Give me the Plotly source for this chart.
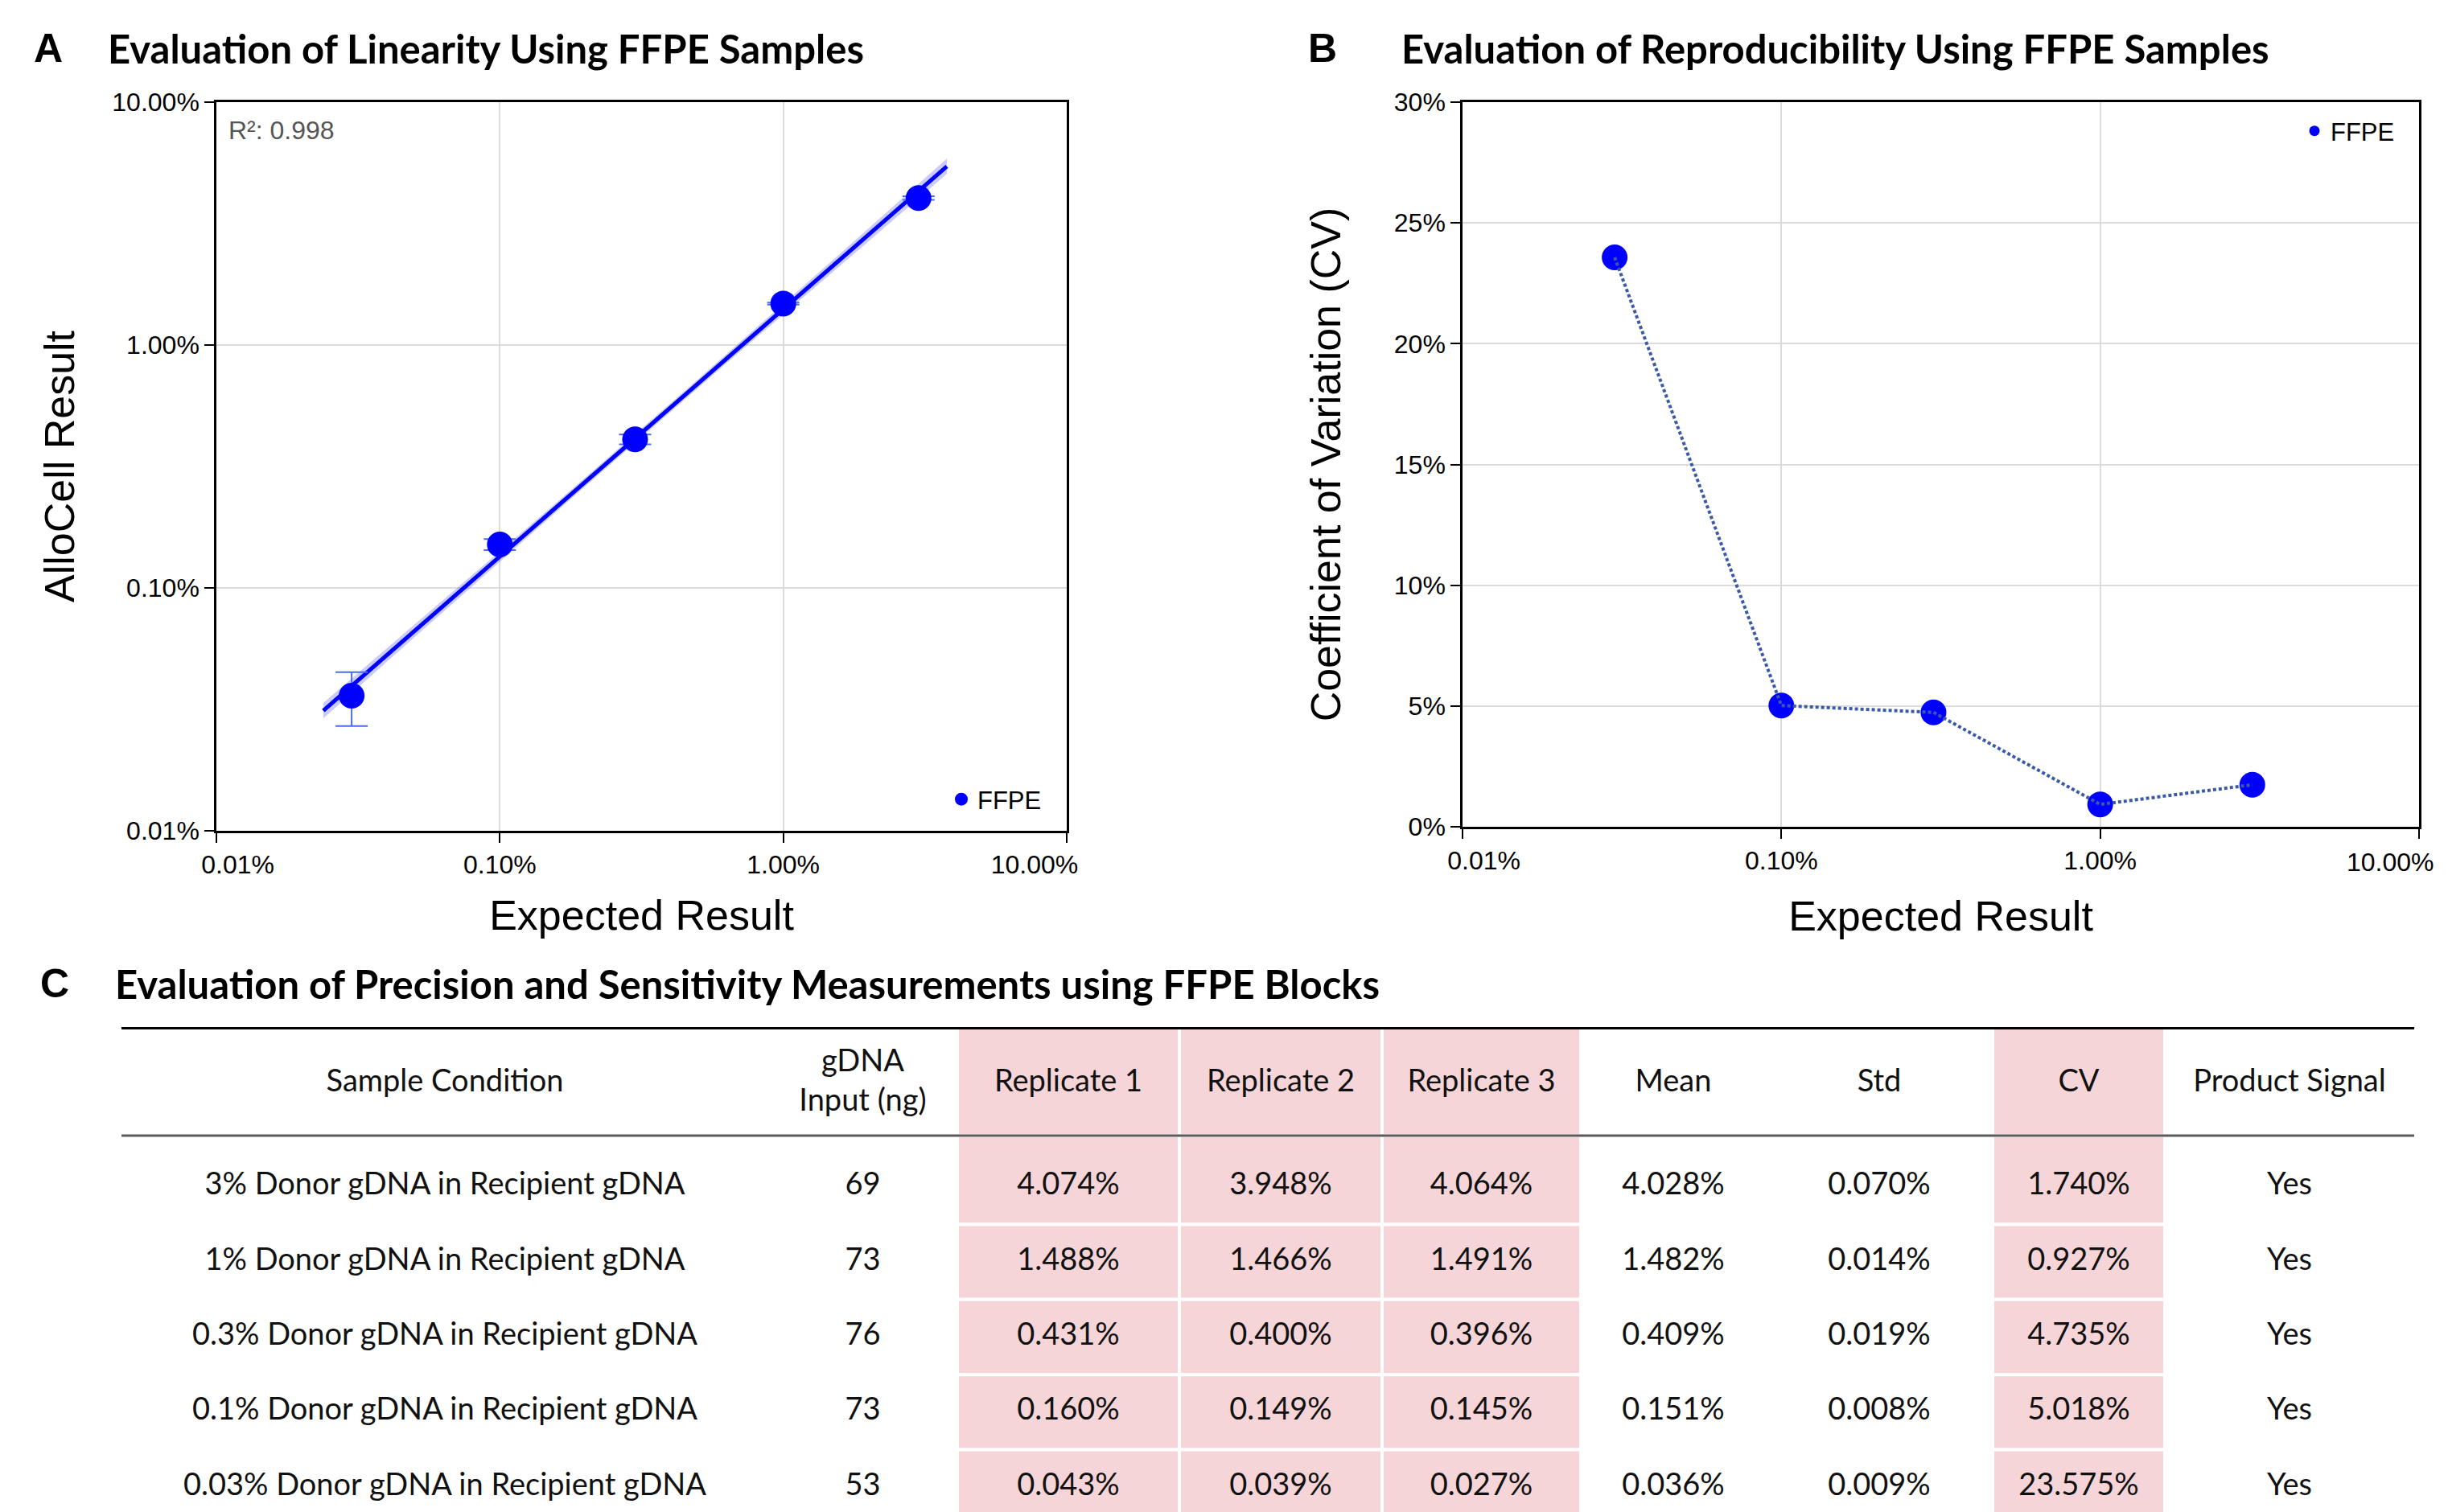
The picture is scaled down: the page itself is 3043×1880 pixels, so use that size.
import numpy as np
import plotly.graph_objects as go

W, H = 3043, 1880

# ---------------- data ----------------
conditions = ["3% Donor gDNA in Recipient gDNA", "1% Donor gDNA in Recipient gDNA",
              "0.3% Donor gDNA in Recipient gDNA", "0.1% Donor gDNA in Recipient gDNA",
              "0.03% Donor gDNA in Recipient gDNA"]
expected_pct = [3, 1, 0.3, 0.1, 0.03]
gdna_input = [69, 73, 76, 73, 53]
rep1 = [4.074, 1.488, 0.431, 0.160, 0.043]
rep2 = [3.948, 1.466, 0.400, 0.149, 0.039]
rep3 = [4.064, 1.491, 0.396, 0.145, 0.027]
mean_pct = [4.028, 1.482, 0.409, 0.151, 0.036]
std_pct = [0.070, 0.014, 0.019, 0.008, 0.009]
cv_pct = [1.740, 0.927, 4.735, 5.018, 23.575]
product_signal = ["Yes", "Yes", "Yes", "Yes", "Yes"]
r_squared = 0.998

headers = ["Sample Condition", "gDNA<br>Input (ng)", "Replicate 1", "Replicate 2", "Replicate 3",
           "Mean", "Std", "CV", "Product Signal"]
log_tick_vals = [0.01, 0.1, 1, 10]
log_tick_text = ["0.01%", "0.10%", "1.00%", "10.00%"]
cv_tick_vals = [0, 5, 10, 15, 20, 25, 30]

# ---------------- style ----------------
AX_FONT = "Liberation Sans, Arial, Helvetica, sans-serif"
CAL_FONT = "Lato, Carlito, Calibri, sans-serif"
BLUE = "#0000ff"
GRID = "#dcdcdc"
PINK = "#f5d5d8"
BAND_SCALE = 0.9  # visual width of the fit uncertainty band (in standard errors)

fig = go.Figure()

# ---------------- panel A : linearity ----------------
order = np.argsort(expected_pct)
xs = np.array(expected_pct, dtype=float)[order]
ys = np.array(mean_pct, dtype=float)[order]
es = np.array(std_pct, dtype=float)[order]
cvs = np.array(cv_pct, dtype=float)[order]

lx, ly = np.log10(xs), np.log10(ys)
slope, intercept = np.polyfit(lx, ly, 1)
n = len(lx)
resid = ly - (slope * lx + intercept)
se = np.sqrt(np.sum(resid ** 2) / (n - 2))
sxx = np.sum((lx - lx.mean()) ** 2)
fit_lx = np.linspace(lx.min() - 0.1, lx.max() + 0.1, 60)
fit_ly = slope * fit_lx + intercept
half = BAND_SCALE * se * np.sqrt(1 / n + (fit_lx - lx.mean()) ** 2 / sxx)
fx = 10 ** fit_lx
band_x = np.concatenate([fx, fx[::-1]])
band_y = np.concatenate([10 ** (fit_ly + half), 10 ** (fit_ly - half)[::-1]])

fig.add_trace(go.Scatter(x=band_x, y=band_y, fill="toself", fillcolor="rgba(70,70,255,0.28)",
                         line=dict(width=0), mode="lines", hoverinfo="skip", showlegend=False,
                         xaxis="x", yaxis="y"))
fig.add_trace(go.Scatter(x=fx, y=10 ** fit_ly, mode="lines", line=dict(color=BLUE, width=5),
                         hoverinfo="skip", showlegend=False, xaxis="x", yaxis="y"))
fig.add_trace(go.Scatter(x=xs, y=ys, mode="markers", name="FFPE",
                         marker=dict(color=BLUE, size=32),
                         error_y=dict(type="data", array=es, color="#4a6ee6", thickness=2, width=20),
                         xaxis="x", yaxis="y", legend="legend"))

# ---------------- panel B : reproducibility ----------------
fig.add_trace(go.Scatter(x=xs, y=cvs, mode="markers", marker=dict(color=BLUE, size=32),
                         showlegend=False, xaxis="x2", yaxis="y2"))
fig.add_trace(go.Scatter(x=xs, y=cvs, mode="lines",
                         line=dict(color="#3a5aa8", width=4, dash="4px,3px"),
                         showlegend=False, hoverinfo="skip", xaxis="x2", yaxis="y2"))
fig.add_trace(go.Scatter(x=[None], y=[None], mode="markers", name="FFPE",
                         marker=dict(color=BLUE, size=13), xaxis="x2", yaxis="y2",
                         legend="legend2"))

# ---------------- panel C : table ----------------
col_edges = [151, 955, 1190, 1466, 1718, 1965, 2195, 2477, 2691, 3001]
pink_cols = [2, 3, 4, 7]
col_centers = [(col_edges[i] + col_edges[i + 1]) / 2 for i in range(len(col_edges) - 1)]
Y_TOP, Y_HEAD, Y_HEADLINE, Y_BOT = -2.13, -1.38, -0.685, 4.33
n_rows = len(conditions)

shapes = []
for c in pink_cols:
    x0, x1 = col_edges[c], col_edges[c + 1]
    bounds = [(Y_TOP, Y_HEADLINE)]
    for r in range(n_rows):
        top = Y_HEADLINE if r == 0 else r - 0.5
        bot = Y_BOT + 0.2 if r == n_rows - 1 else r + 0.5
        bounds.append((top, bot))
    for (t, b) in bounds:
        shapes.append(dict(type="rect", xref="x3", yref="y3", x0=x0, x1=x1, y0=t, y1=b,
                           fillcolor=PINK, line=dict(color="white", width=4), layer="below"))
shapes.append(dict(type="line", xref="x3", yref="y3", x0=col_edges[0], x1=col_edges[-1],
                   y0=Y_TOP, y1=Y_TOP, line=dict(color="black", width=6)))
shapes.append(dict(type="line", xref="x3", yref="y3", x0=col_edges[0], x1=col_edges[-1],
                   y0=Y_HEADLINE, y1=Y_HEADLINE, line=dict(color="#5a5a5a", width=3)))

def pct(v):
    return f"{v:.3f}%"

cells = [conditions, [str(v) for v in gdna_input], [pct(v) for v in rep1], [pct(v) for v in rep2],
         [pct(v) for v in rep3], [pct(v) for v in mean_pct], [pct(v) for v in std_pct],
         [pct(v) for v in cv_pct], product_signal]
tx, ty, tt = [], [], []
for ci, col in enumerate(cells):
    for ri, val in enumerate(col):
        tx.append(col_centers[ci]); ty.append(ri); tt.append(val)
for ci, h in enumerate(headers):
    tx.append(col_centers[ci]); ty.append(Y_HEAD); tt.append(h)
fig.add_trace(go.Scatter(x=tx, y=ty, text=tt, mode="text", textposition="middle center",
                         textfont=dict(family=CAL_FONT, size=38, color="#111111"),
                         hoverinfo="skip", showlegend=False, cliponaxis=False,
                         xaxis="x3", yaxis="y3"))

# ---------------- axes ----------------
NB = "\u00a0"
x_tick_text_A = [NB * 6 + log_tick_text[0]] + log_tick_text[1:3] + [log_tick_text[3] + NB * 9]
# panel B: the last label is placed as an annotation (shifted inward, like the original)
x_tick_text_B = [NB * 6 + log_tick_text[0]] + log_tick_text[1:3] + [""]

tick_font = dict(family=AX_FONT, size=32, color="black")
common = dict(ticks="outside", ticklen=12, tickwidth=2, tickcolor="black",
              showline=True, linecolor="black", linewidth=2.5, mirror=True,
              showgrid=True, gridcolor=GRID, gridwidth=2, zeroline=False, automargin=False,
              ticklabeloverflow="allow", tickfont=tick_font)
title_font = dict(family=AX_FONT, size=52, color="black")

A_dom_x = [269 / W, 1326 / W]
A_dom_y = [1 - 1033 / H, 1 - 127 / H]
B_dom_x = [1818 / W, 3007 / W]
B_dom_y = [1 - 1028 / H, 1 - 127 / H]

fig.update_layout(
    xaxis=dict(type="log", range=[-2, 1], domain=A_dom_x, anchor="y",
               tickvals=log_tick_vals, ticktext=x_tick_text_A,
               title=dict(text="Expected Result", font=title_font, standoff=28), **common),
    yaxis=dict(type="log", range=[-2, 1], domain=A_dom_y, anchor="x",
               tickvals=log_tick_vals, ticktext=log_tick_text,
               title=dict(text="AlloCell Result", font=title_font, standoff=31), **common),
    xaxis2=dict(type="log", range=[-2, 1], domain=B_dom_x, anchor="y2",
                tickvals=log_tick_vals, ticktext=x_tick_text_B,
                title=dict(text="Expected Result", font=title_font, standoff=34), **common),
    yaxis2=dict(range=[0, 30], domain=B_dom_y, anchor="x2",
                tickvals=cv_tick_vals, ticktext=[f"{v}%" for v in cv_tick_vals],
                title=dict(text="Coefficient of Variation (CV)", font=title_font, standoff=50),
                **common),
    xaxis3=dict(domain=[0, 1], range=[0, W], visible=False, fixedrange=True, anchor="y3",
                automargin=False),
    yaxis3=dict(domain=[0, 1 - 1277 / H], range=[Y_BOT, Y_TOP], visible=False,
                fixedrange=True, anchor="x3", automargin=False),
    legend=dict(x=1300 / W, y=1 - 994 / H, xanchor="right", yanchor="middle",
                bgcolor="rgba(0,0,0,0)", font=dict(family=AX_FONT, size=31, color="black"),
                itemsizing="trace"),
    legend2=dict(x=2982 / W, y=1 - 163 / H, xanchor="right", yanchor="middle",
                 bgcolor="rgba(0,0,0,0)", font=dict(family=AX_FONT, size=31, color="black"),
                 itemsizing="trace"),
    shapes=shapes,
    width=W, height=H, margin=dict(l=0, r=0, t=0, b=0, pad=0, autoexpand=False),
    paper_bgcolor="white", plot_bgcolor="white",
)

annotations = [
    dict(text="<b>A</b>", x=60 / W, y=1 - 60 / H, font=dict(family=AX_FONT, size=50, color="black")),
    dict(text="<b>B</b>", x=1644 / W, y=1 - 60 / H, font=dict(family=AX_FONT, size=50, color="black")),
    dict(text="<b>C</b>", x=68 / W, y=1 - 1223 / H, font=dict(family=AX_FONT, size=50, color="black")),
    dict(text="<b>Evaluation of Linearity Using FFPE Samples</b>", x=132 / W, y=1 - 60 / H,
         xanchor="left", font=dict(family=CAL_FONT, size=49, color="black")),
    dict(text="<b>Evaluation of Reproducibility Using FFPE Samples</b>", x=1740 / W, y=1 - 60 / H,
         xanchor="left", font=dict(family=CAL_FONT, size=49, color="black")),
    dict(text="<b>Evaluation of Precision and Sensitivity Measurements using FFPE Blocks</b>",
         x=141 / W, y=1 - 1223 / H, xanchor="left",
         font=dict(family=CAL_FONT, size=49, color="black")),
    dict(text=f"R²: {r_squared:.3f}", x=282 / W, y=1 - 162 / H, xanchor="left",
         font=dict(family=AX_FONT, size=32, color="#555555")),
]
for a in annotations:
    a.setdefault("xanchor", "center")
    a.update(xref="paper", yref="paper", yanchor="middle", showarrow=False)
# last x tick label of panel B, at the 10% tick (log axis -> log10 position), shifted inward
annotations.append(dict(text=log_tick_text[3], xref="x2", x=np.log10(log_tick_vals[3]),
                        yref="y2 domain", y=0, xanchor="center", yanchor="middle",
                        xshift=-36, yshift=-44, showarrow=False, font=tick_font))
fig.update_layout(annotations=annotations)

fig.write_html("out.html", config={"displayModeBar": False},
               post_script="document.body.style.margin='0px';document.body.style.overflow='hidden';")
